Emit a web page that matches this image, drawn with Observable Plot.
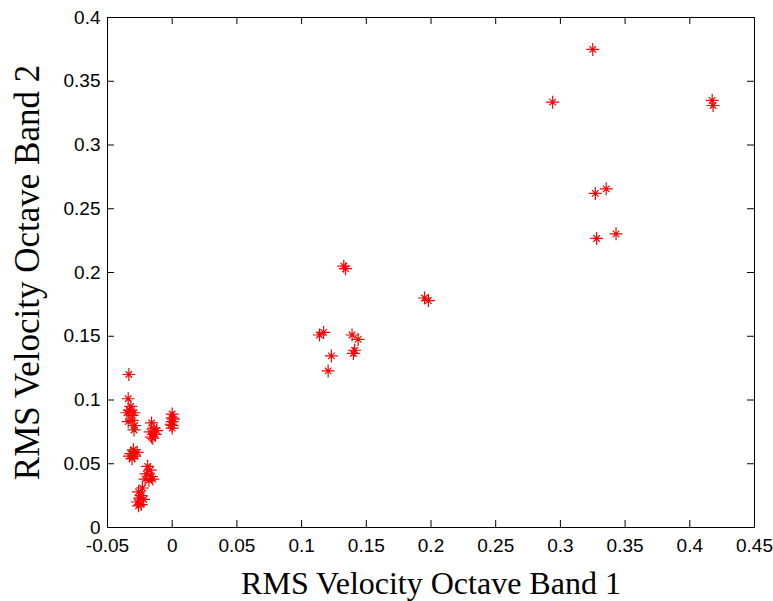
<!DOCTYPE html>
<html>
<head>
<meta charset="utf-8">
<script src="https://cdn.jsdelivr.net/npm/d3@7"></script>
<script src="https://cdn.jsdelivr.net/npm/@observablehq/plot@0.6"></script>
<style>
  html, body { margin: 0; padding: 0; background: #fff; }
</style>
</head>
<body>
<div id="chart"></div>
<script>
// RMS velocity, octave band 1 (x) and octave band 2 (y)
const bandOne = [
  -0.0335,
  -0.034, -0.032, -0.0295, -0.035, -0.031, -0.029, -0.034, -0.0295, -0.031, -0.033,
  -0.016, -0.014, -0.017, -0.013, -0.015, -0.012, -0.016,
  0.0, 0.0, 0.0, 0.0, 0.0, 0.001, -0.001,
  -0.032, -0.030, -0.029, -0.031, -0.027, -0.033,
  -0.019, -0.017, -0.020, -0.016, -0.018, -0.015, -0.021,
  -0.026, -0.024, -0.022, -0.027, -0.024, -0.025, -0.023, -0.026,
  0.1326, 0.134, 0.195, 0.198, 0.1138, 0.117, 0.139, 0.1437, 0.141, 0.140, 0.123, 0.1205,
  0.325, 0.294, 0.4173, 0.418, 0.327, 0.3354, 0.328, 0.343
];
const bandTwo = [
  0.120,
  0.101, 0.095, 0.090, 0.090, 0.084, 0.080, 0.083, 0.0765, 0.088, 0.092,
  0.082, 0.078, 0.075, 0.073, 0.070, 0.076, 0.071,
  0.089, 0.086, 0.083, 0.080, 0.078, 0.085, 0.081,
  0.058, 0.061, 0.056, 0.054, 0.059, 0.056,
  0.048, 0.045, 0.042, 0.040, 0.037, 0.038, 0.038,
  0.028, 0.025, 0.022, 0.020, 0.018, 0.023, 0.031, 0.017,
  0.205, 0.203, 0.180, 0.178, 0.151, 0.153, 0.151, 0.1475, 0.139, 0.1365, 0.1346, 0.1228,
  0.375, 0.3336, 0.335, 0.331, 0.262, 0.2656, 0.2267, 0.2303
];
const xTicks = [-0.05, 0, 0.05, 0.1, 0.15, 0.2, 0.25, 0.3, 0.35, 0.4, 0.45];
const yTicks = [0, 0.05, 0.1, 0.15, 0.2, 0.25, 0.3, 0.35, 0.4];
const xLabel = "RMS Velocity Octave Band 1";
const yLabel = "RMS Velocity Octave Band 2";

const points = bandOne.map((x, i) => ({x, y: bandTwo[i]}));

// MATLAB-style '*' marker: plus plus short diagonals
const asterisk8 = {
  draw(context, size) {
    const r = Math.sqrt(size / Math.PI);
    const d = r * 0.5;
    context.moveTo(-r, 0); context.lineTo(r, 0);
    context.moveTo(0, -r); context.lineTo(0, r);
    context.moveTo(-d, -d); context.lineTo(d, d);
    context.moveTo(-d, d); context.lineTo(d, -d);
  }
};

const W = 773, H = 601;
const mL = 107, mR = 19, mT = 17, mB = 74;
const plotW = W - mL - mR, plotH = H - mT - mB;
const tickLen = 7;
const fmt = d => String(+d.toFixed(2));

const chart = Plot.plot({
  width: W,
  height: H,
  marginLeft: mL,
  marginRight: mR,
  marginTop: mT,
  marginBottom: mB,
  style: {fontFamily: "'Liberation Sans', Arial, sans-serif", background: "#fff", color: "#000"},
  x: {domain: [-0.05, 0.45], label: null},
  y: {domain: [0, 0.4], label: null},
  marks: [
    Plot.dot(points, {x: "x", y: "y", symbol: asterisk8, r: 6.5, stroke: "#ff0000", strokeWidth: 1.2, fill: "none"}),
    Plot.frame({stroke: "#000", strokeWidth: 1}),
    Plot.tickX(xTicks, {x: d => d, insetTop: plotH - tickLen, stroke: "#000"}),
    Plot.tickX(xTicks, {x: d => d, insetBottom: plotH - tickLen, stroke: "#000"}),
    Plot.tickY(yTicks, {y: d => d, insetRight: plotW - tickLen, stroke: "#000"}),
    Plot.tickY(yTicks, {y: d => d, insetLeft: plotW - tickLen, stroke: "#000"}),
    Plot.axisX(xTicks, {tickSize: 0, tickPadding: 11, fontSize: 19, tickFormat: fmt, label: null}),
    Plot.axisY(yTicks, {tickSize: 0, tickPadding: 7, fontSize: 19, tickFormat: fmt, label: null}),
    Plot.text([xLabel], {text: d => d, frameAnchor: "bottom", dy: 66, lineAnchor: "bottom", textAnchor: "middle", fontSize: 32, fontFamily: "'Liberation Serif', 'Times New Roman', serif", fill: "#000"}),
    Plot.text([yLabel], {text: d => d, frameAnchor: "left", dx: -69, rotate: -90, lineAnchor: "bottom", textAnchor: "middle", fontSize: 35, fontFamily: "'Liberation Serif', 'Times New Roman', serif", fill: "#000"})
  ]
});
document.getElementById("chart").appendChild(chart);
</script>
</body>
</html>
